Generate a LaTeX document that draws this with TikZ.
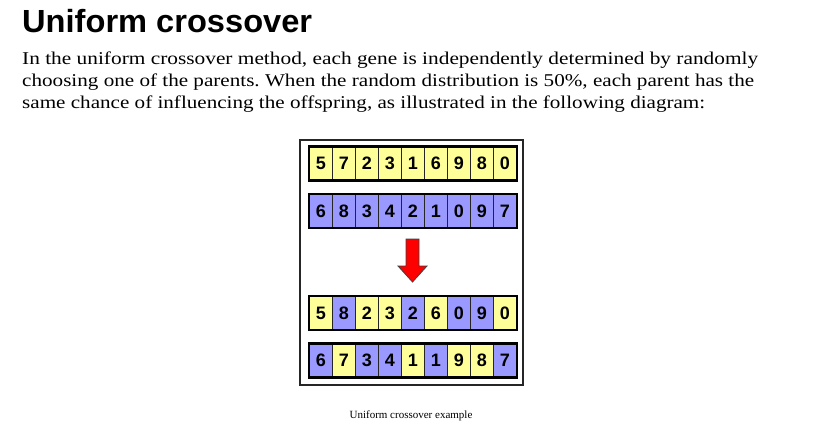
\documentclass[tikz,border=0pt]{standalone}
\usepackage{fontspec}
\setmainfont{Liberation Serif}
\newfontfamily\titlefont{Liberation Sans}
\usepackage{graphicx}
\definecolor{geneY}{HTML}{FFFF99}
\definecolor{geneB}{HTML}{9999FF}
\frenchspacing
\begin{document}
\begin{tikzpicture}[x=1pt,y=-1pt,
  cell/.style={draw=black!85, line width=0.8pt, minimum width=23pt, minimum height=33pt,
    inner sep=0pt, anchor=north west, font=\titlefont\bfseries\fontsize{18}{18}\selectfont},
  rowframe/.style={draw=black, line width=2.4pt},
  bodyline/.style={anchor=base west, inner sep=0pt},
  arrowshape/.style={fill=red, draw=black!75, line width=0.8pt, line join=miter}]
\useasboundingbox (0,0) rectangle (837,439);

\node[bodyline] (title) at (22,32)
  {\resizebox{290pt}{\height}{\titlefont\bfseries\fontsize{32}{32}\selectfont Uniform crossover}};
\node[bodyline] (l1) at (22,64)
  {\resizebox{736pt}{\height}{\fontsize{18}{20}\selectfont In the uniform crossover method, each gene is independently determined by randomly}};
\node[bodyline] (l2) at (22,86)
  {\resizebox{732pt}{\height}{\fontsize{18}{20}\selectfont choosing one of the parents. When the random distribution is 50\%, each parent has the}};
\node[bodyline] (l3) at (22,108)
  {\resizebox{683pt}{\height}{\fontsize{18}{20}\selectfont same chance of influencing the offspring, as illustrated in the following diagram:}};

\node[draw=black!85, line width=1.5pt, anchor=north west, minimum width=223pt, minimum height=245pt, inner sep=0pt] (frame) at (299,139) {};

\foreach \d/\c [count=\i] in {5/Y,7/Y,2/Y,3/Y,1/Y,6/Y,9/Y,8/Y,0/Y}
  \node[cell, fill=gene\c] (r1c\i) at ({309+23*(\i-1)},146.5) {\d};
\foreach \d/\c [count=\i] in {6/B,8/B,3/B,4/B,2/B,1/B,0/B,9/B,7/B}
  \node[cell, fill=gene\c] (r2c\i) at ({309+23*(\i-1)},194) {\d};
\foreach \d/\c [count=\i] in {5/Y,8/B,2/Y,3/Y,2/B,6/Y,0/B,9/B,0/Y}
  \node[cell, fill=gene\c] (r3c\i) at ({309+23*(\i-1)},296) {\d};
\foreach \d/\c [count=\i] in {6/B,7/Y,3/B,4/B,1/Y,1/B,9/Y,8/Y,7/B}
  \node[cell, fill=gene\c] (r4c\i) at ({309+23*(\i-1)},343.5) {\d};

\foreach \r in {1,2,3,4}
  \draw[rowframe] (r\r c1.north west) rectangle (r\r c9.south east);

\draw[arrowshape] (406,239) -- (419,239) -- (419,266) -- (427,266) -- (412.5,282)
  -- (398,266) -- (406,266) -- cycle;

\node[anchor=base, inner sep=0pt, font=\fontsize{11}{13}\selectfont] (caption) at (411,418) {Uniform crossover example};
\end{tikzpicture}
\end{document}
